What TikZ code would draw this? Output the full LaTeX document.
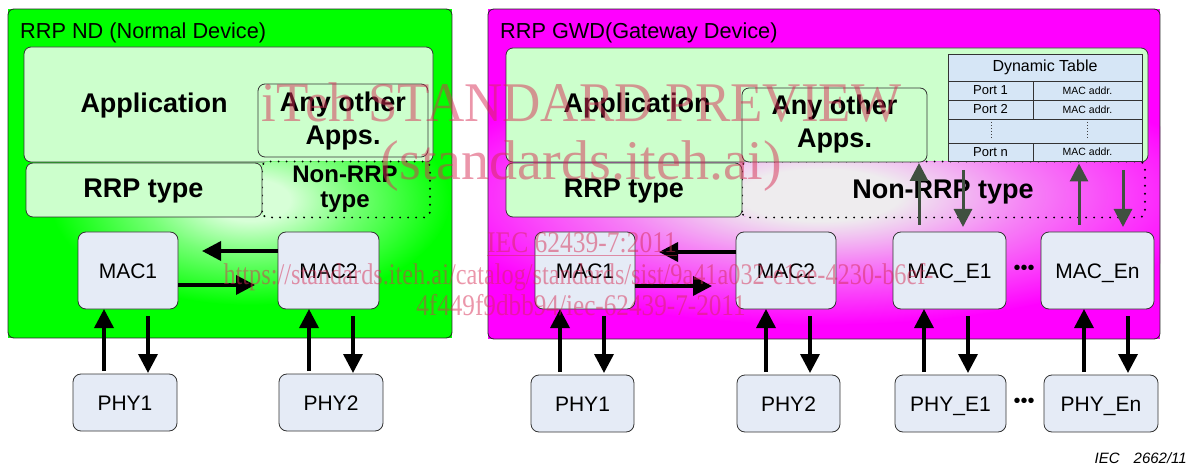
\documentclass[tikz,border=0pt]{standalone}
\usepackage{fontspec}
\setmainfont{Liberation Sans}
\newfontfamily\wmfont{Liberation Serif}
\usetikzlibrary{arrows.meta,calc}
\definecolor{gbase}{RGB}{0,255,0}
\definecolor{mbase}{RGB}{255,0,255}
\definecolor{appg}{RGB}{204,255,204}
\definecolor{macf}{RGB}{229,235,246}
\definecolor{tabf}{RGB}{214,230,246}
\definecolor{darr}{RGB}{64,80,64}
\definecolor{wmc}{RGB}{215,45,85}
\definecolor{gglow}{RGB}{215,255,215}
\definecolor{mglow}{RGB}{238,236,238}
\colorlet{gmid}{gglow!55!gbase}
\colorlet{mmid}{mglow!55!mbase}
\pgfdeclareradialshading{glowG}{\pgfpoint{0bp}{0bp}}{color(0bp)=(gglow); color(5bp)=(gglow); color(13bp)=(gmid); color(25bp)=(gbase); color(50bp)=(gbase)}
\pgfdeclareradialshading{glowM}{\pgfpoint{0bp}{0bp}}{color(0bp)=(mglow); color(5bp)=(mglow); color(13bp)=(mmid); color(25bp)=(mbase); color(50bp)=(mbase)}
\tikzset{
  bigbox/.style={inner sep=0pt, outer sep=0pt},
  boxline/.style={line width=0.8pt, draw=black!85, rounded corners=6pt},
  layer/.style={draw=black!80, line width=0.8pt, fill=appg, rounded corners=7pt, inner sep=0pt, outer sep=0pt},
  hw/.style={draw=black!80, line width=0.8pt, fill=macf, rounded corners=8pt, inner sep=0pt, outer sep=0pt, font=\fontsize{21}{25}\selectfont, text height=15pt, text depth=0pt},
  cell/.style={draw=black!80, line width=0.7pt, fill=tabf, inner sep=0pt, outer sep=0pt},
  region/.style={inner sep=0pt, outer sep=0pt},
  dotline/.style={line width=2.2pt, dash pattern=on 0pt off 8pt, line cap=round, rounded corners=6pt},
  lbl/.style={font=\bfseries\fontsize{27}{32}\selectfont, anchor=base, inner sep=0pt},
  lblsm/.style={font=\bfseries\fontsize{24}{28}\selectfont, anchor=base, inner sep=0pt},
  title/.style={font=\fontsize{21.7}{26}\selectfont, anchor=base west, inner sep=0pt},
  arr/.style={line width=3.5pt, -{Triangle[length=19pt,width=19pt]}},
  darrow/.style={line width=3pt, draw=darr, -{Triangle[length=18pt,width=18pt]}, color=darr},
  wm/.style={text=wmc, text opacity=0.5, inner sep=0pt, anchor=base},
  ell/.style={font=\fontsize{20}{24}\selectfont, inner sep=0pt},
}
\begin{document}
\begin{tikzpicture}[x=1pt,y=-1pt]
\useasboundingbox (0,0) rectangle (1197,465);

% ================= Left: Normal Device =================
\node[bigbox, fill=gbase, minimum width=444pt, minimum height=329pt] (nd) at (230,173.5) {};
\begin{scope}
  \clip[rounded corners=6pt] (nd.south west) rectangle (nd.north east);
  \path[shading=glowG] (250,200) ellipse (200 and 105);
\end{scope}
\draw[boxline] (nd.south west) rectangle (nd.north east);
\node[title] (ndt) at (20,39) {RRP ND (Normal Device)};

\node[layer, minimum width=409pt, minimum height=115pt] (appL) at (228.5,104.5) {};
\node[region, minimum width=168pt, minimum height=56pt] (nonL) at (346,189.5) {};
\begin{scope}
  \clip[rounded corners=6pt] (nonL.south west) rectangle (nonL.north east);
  \fill[gbase] (nonL.south west) rectangle (nonL.north east);
  \path[shading=glowG] (250,200) ellipse (200 and 105);
\end{scope}
\draw[dotline] (nonL.south west) rectangle (nonL.north east);
\node[layer, minimum width=170pt, minimum height=73pt] (anyL) at (343,120.5) {};
\node[layer, minimum width=236pt, minimum height=54pt] (rrpL) at (144,190) {};

\node[lbl] (tApL) at (154,113) {Application};
\node[lbl] (tAnyL1) at (343,112) {Any other};
\node[lbl] (tAnyL2) at (343,145) {Apps.};
\node[lbl] (tRrpL) at (143.5,198) {RRP type};
\node[lblsm] (tNonL1) at (345,183) {Non-RRP};
\node[lblsm] (tNonL2) at (345,208) {type};

\node[hw, minimum width=100pt, minimum height=77pt] (mac1) at (128,270.5) {MAC1};
\node[hw, minimum width=101pt, minimum height=77pt] (mac2) at (328.5,270.5) {MAC2};
\node[hw, minimum width=104pt, minimum height=57pt] (phy1) at (125,402.5) {PHY1};
\node[hw, minimum width=104pt, minimum height=57pt] (phy2) at (331,402.5) {PHY2};

\draw[arr] ($(mac2.west)+(0,-19.5)$) -- ($(mac1.east)+(24,-19.5)$);
\draw[arr] ($(mac1.east)+(0,14.5)$) -- ($(mac2.west)+(-23,14.5)$);
\draw[arr] ($(phy1.north)+(-21,-3)$) -- ($(mac1.south)+(-24,0)$);
\draw[arr] ($(mac1.south)+(20,7)$) -- ($(phy1.north)+(23,-1)$);
\draw[arr] ($(phy2.north)+(-22,-3)$) -- ($(mac2.south)+(-19.5,0)$);
\draw[arr] ($(mac2.south)+(24.5,7)$) -- ($(phy2.north)+(22,-1)$);

% ================= Right: Gateway Device =================
\node[bigbox, fill=mbase, minimum width=672pt, minimum height=330pt] (gwd) at (824,174) {};
\begin{scope}
  \clip[rounded corners=6pt] (gwd.south west) rectangle (gwd.north east);
  \path[shading=glowM] (820,195) ellipse (400 and 130);
\end{scope}
\draw[boxline] (gwd.south west) rectangle (gwd.north east);
\node[title] (gwdt) at (500,39) {RRP GWD(Gateway Device)};

\node[layer, minimum width=642pt, minimum height=114pt] (appR) at (827,105) {};
\node[region, minimum width=403pt, minimum height=56pt] (nonR) at (943.5,189.5) {};
\begin{scope}
  \clip[rounded corners=6pt] (nonR.south west) rectangle (nonR.north east);
  \fill[mbase] (nonR.south west) rectangle (nonR.north east);
  \path[shading=glowM] (820,195) ellipse (400 and 130);
\end{scope}
\draw[dotline] (nonR.south west) rectangle (nonR.north east);
\node[layer, minimum width=185pt, minimum height=74pt] (anyR) at (834.5,125) {};
\node[layer, minimum width=236pt, minimum height=54pt] (rrpR) at (624,190) {};

\node[lbl] (tApR) at (637,113) {Application};
\node[lbl] (tAnyR1) at (834.5,115) {Any other};
\node[lbl] (tAnyR2) at (834.5,148) {Apps.};
\node[lbl] (tRrpR) at (624,198) {RRP type};
\node[lbl] (tNonR) at (943,199) {Non-RRP type};

% Dynamic table
\node[cell, minimum width=194pt, minimum height=27pt, font=\fontsize{16}{19}\selectfont] (dynh) at (1045,67.5) {Dynamic Table};
\node[cell, minimum width=85pt, minimum height=19pt, font=\fontsize{13}{16}\selectfont] (p1) at (990.5,90.5) {Port 1};
\node[cell, minimum width=109pt, minimum height=19pt, font=\fontsize{10.5}{13}\selectfont] (m1) at (1087.5,90.5) {MAC addr.};
\node[cell, minimum width=85pt, minimum height=19pt, font=\fontsize{13}{16}\selectfont] (p2) at (990.5,109.5) {Port 2};
\node[cell, minimum width=109pt, minimum height=19pt, font=\fontsize{10.5}{13}\selectfont] (m2) at (1087.5,109.5) {MAC addr.};
\node[cell, minimum width=194pt, minimum height=24pt] (dr) at (1045,131) {};
\node[cell, minimum width=85pt, minimum height=18pt, font=\fontsize{13}{16}\selectfont] (pn) at (990.5,152) {Port n};
\node[cell, minimum width=109pt, minimum height=18pt, font=\fontsize{10.5}{13}\selectfont] (mn) at (1087.5,152) {MAC addr.};
\draw[line width=0.7pt, black!75, dash pattern=on 1.5pt off 1.5pt] ($(dr.north)+(-54,3)$) -- ($(dr.south)+(-54,-3)$);
\draw[line width=0.7pt, black!75, dash pattern=on 1.5pt off 1.5pt] ($(dr.north)+(42,3)$) -- ($(dr.south)+(42,-3)$);

\node[hw, minimum width=100pt, minimum height=77pt] (mac1r) at (585,270.5) {MAC1};
\node[hw, minimum width=100pt, minimum height=77pt] (mac2r) at (786,270.5) {MAC2};
\node[hw, minimum width=113pt, minimum height=77pt] (macE1) at (949.5,270.5) {MAC\_E1};
\node[hw, minimum width=113pt, minimum height=77pt] (macEn) at (1097.5,270.5) {MAC\_En};
\node[hw, minimum width=103pt, minimum height=57pt] (phy1r) at (582.5,403.5) {PHY1};
\node[hw, minimum width=103pt, minimum height=57pt] (phy2r) at (788.5,403.5) {PHY2};
\node[hw, minimum width=111pt, minimum height=57pt] (phyE1) at (950.5,403.5) {PHY\_E1};
\node[hw, minimum width=114pt, minimum height=57pt] (phyEn) at (1101,403.5) {PHY\_En};
\node[ell] (ellM) at (1024,270) {•••};
\node[ell] (ellP) at (1024,403) {•••};

\draw[arr] ($(mac2r.west)+(0,-18.5)$) -- ($(mac1r.east)+(24,-18.5)$);
\draw[arr] ($(mac1r.east)+(0,15.5)$) -- ($(mac2r.west)+(-24,15.5)$);
\draw[arr] ($(phy1r.north)+(-22.5,-3)$) -- ($(mac1r.south)+(-25,0)$);
\draw[arr] ($(mac1r.south)+(19,7)$) -- ($(phy1r.north)+(21.5,-2)$);
\draw[arr] ($(phy2r.north)+(-22.5,-3)$) -- ($(mac2r.south)+(-20,0)$);
\draw[arr] ($(mac2r.south)+(24,7)$) -- ($(phy2r.north)+(21.5,-2)$);
\draw[arr] ($(phyE1.north)+(-26.5,-3)$) -- ($(macE1.south)+(-25.5,0)$);
\draw[arr] ($(macE1.south)+(18.5,7)$) -- ($(phyE1.north)+(17.5,-2)$);
\draw[arr] ($(phyEn.north)+(-17,-3)$) -- ($(macEn.south)+(-13.5,0)$);
\draw[arr] ($(macEn.south)+(30.5,7)$) -- ($(phyEn.north)+(27,-2)$);

\draw[darrow] ($(macE1.north)+(-30.5,-7)$) -- ($(appR.south)+(92,1)$);
\draw[darrow] ($(appR.south)+(136,8)$) -- ($(macE1.north)+(13.5,-5)$);
\draw[darrow] ($(macEn.north)+(-18.5,-7)$) -- ($(mn.south)+(-8.5,2.5)$);
\draw[darrow] ($(mn.south)+(35.5,9)$) -- ($(macEn.north)+(25.5,-5)$);

\node[anchor=base east, inner sep=0pt, font=\itshape\fontsize{15}{18}\selectfont] (iec) at (1187,463) {IEC\hspace{14pt}2662/11};

% ================= Watermark =================
\node[wm, font=\wmfont\fontsize{56}{60}\selectfont] (wm1) at (581.5,122) {\scalebox{0.946}[1]{iTeh STANDARD PREVIEW}};
\node[wm, font=\wmfont\fontsize{56}{60}\selectfont] (wm2) at (581.5,180) {(standards.iteh.ai)};
\node[wm, font=\wmfont\fontsize{30}{34}\selectfont] (wm3) at (582,253) {\scalebox{0.85}[1]{\underline{IEC 62439-7:2011}}};
\node[wm, font=\wmfont\fontsize{30}{34}\selectfont] (wm4) at (578.5,284) {\scalebox{0.81}[1]{https://standards.iteh.ai/catalog/standards/sist/9a41a032-e1ee-4230-b6ef-}};
\node[wm, font=\wmfont\fontsize{30}{34}\selectfont] (wm5) at (581,315) {\scalebox{0.84}[1]{4f449f9dbb94/iec-62439-7-2011}};
\end{tikzpicture}
\end{document}
